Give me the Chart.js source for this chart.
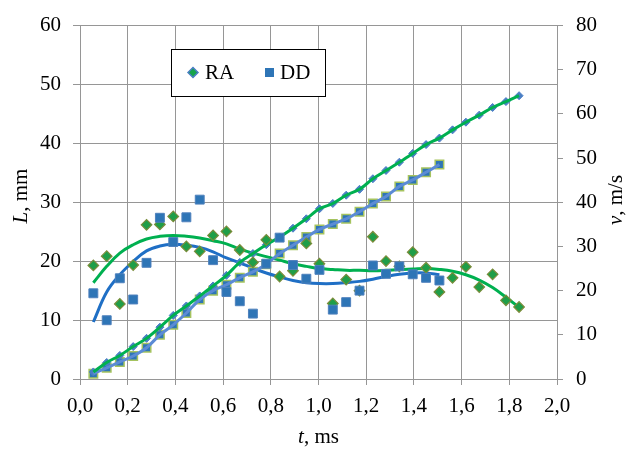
<!DOCTYPE html>
<html><head><meta charset="utf-8">
<script src="https://cdn.jsdelivr.net/npm/chart.js@4.4.1/dist/chart.umd.min.js"></script>
<style>html,body{margin:0;padding:0;background:#fff;} #wrap{width:635px;height:451px;position:relative;}</style>
</head><body><div id="wrap"><canvas id="c" width="635" height="451"></canvas></div>
<script>
// time of each frame, ms
const timeMs = [0.056, 0.112, 0.167, 0.223, 0.279, 0.335, 0.391, 0.446, 0.502, 0.558,
  0.614, 0.670, 0.725, 0.781, 0.837, 0.893, 0.949, 1.004, 1.060, 1.116,
  1.172, 1.228, 1.283, 1.339, 1.395, 1.451, 1.507, 1.562, 1.618, 1.674,
  1.730, 1.786, 1.841];
const seriesNames = ['RA', 'DD'];
// L, mm
const lenRA = [1.2, 2.8, 4.0, 5.5, 6.9, 8.8, 10.8, 12.4, 14.1, 15.8, 17.6, 19.8, 21.3, 22.8, 24.1,
  25.6, 27.2, 28.9, 29.8, 31.2, 32.2, 34.0, 35.4, 36.8, 38.3, 39.8, 40.9, 42.3, 43.6, 44.8,
  46.1, 47.1, 48.1];
const lenDD = [0.9, 1.9, 2.9, 3.9, 5.3, 7.5, 9.2, 11.2, 13.5, 15.0, 16.0, 17.2, 18.2, 19.5, 21.3,
  22.7, 24.1, 25.4, 26.3, 27.2, 28.4, 29.8, 31.0, 32.7, 33.8, 35.1, 36.4];
// v, m/s
const velRA = [25.7, 27.8, 17.0, 25.8, 34.9, 35.0, 36.8, 30.0, 28.9, 32.5, 33.4, 29.2, 26.4, 31.5, 23.2,
  24.5, 30.7, 26.1, 17.1, 22.5, 20.0, 32.2, 26.7, 25.5, 28.7, 25.2, 19.7, 22.9, 25.4, 20.8,
  23.7, 17.8, 16.3];
const velDD = [19.4, 13.3, 22.8, 18.0, 26.3, 36.5, 31.0, 36.6, 40.6, 26.9, 19.7, 17.6, 14.8, 26.1, 32.0,
  25.8, 22.7, 24.7, 15.7, 17.4, 20.0, 25.7, 23.8, 25.5, 23.7, 22.9, 22.3];
// smoothed v, m/s
const velFitRA = [21.8, 25.5, 28.5, 30.4, 31.7, 32.3, 32.5, 32.3, 31.9, 31.3, 30.6, 29.4, 28.5, 27.7, 26.9,
  26.1, 25.5, 25.0, 24.8, 24.6, 24.6, 24.5, 24.6, 24.8, 24.9, 25.0, 24.8, 24.4, 23.6, 22.4,
  20.7, 18.5, 16.2];
const velFitDD = [12.9, 19.7, 23.6, 26.6, 29.0, 30.1, 30.5, 30.3, 29.8, 28.8, 27.4, 26.3, 25.1, 24.0, 23.1,
  22.3, 21.8, 21.6, 21.6, 21.8, 22.1, 22.6, 23.2, 23.7, 24.0, 24.0, 23.6];
const xTickStep = 0.2, xMax = 2.0, lMax = 60, lStep = 10, vMax = 80, vStep = 10;

const FONT = "'Liberation Serif', 'Times New Roman', serif";
const GRID = '#969696';
const pts = (ys) => ys.map((y, i) => ({x: timeMs[i], y}));

const titlesAndLegend = {
  id: 'titlesAndLegend',
  afterDraw(chart) {
    const ctx = chart.ctx;
    ctx.save();
    ctx.fillStyle = '#000';
    ctx.textBaseline = 'middle';
    ctx.textAlign = 'left';
    const mixed = (parts, x, y) => {
      let total = 0;
      parts.forEach(p => { ctx.font = p[1]; p.w = ctx.measureText(p[0]).width; total += p.w; });
      let cx = x - total / 2;
      parts.forEach(p => { ctx.font = p[1]; ctx.fillText(p[0], cx, y); cx += p.w; });
    };
    const it = 'italic 21px ' + FONT, nm = '21px ' + FONT;
    const ca = chart.chartArea;
    // x title
    mixed([['t', it], [', ms', nm]], (ca.left + ca.right) / 2, 437);
    // left title
    ctx.save(); ctx.translate(21, 196); ctx.rotate(-Math.PI / 2);
    mixed([['L', it], [', mm', nm]], 0, 0); ctx.restore();
    // right title
    ctx.save(); ctx.translate(616, 200); ctx.rotate(-Math.PI / 2);
    mixed([['v', it], [', m/s', nm]], 0, 0); ctx.restore();
    // legend box
    ctx.fillStyle = '#fff';
    ctx.fillRect(171.5, 49.5, 154, 47);
    ctx.strokeStyle = '#000'; ctx.lineWidth = 1;
    ctx.strokeRect(171.5, 49.5, 154, 47);
    // RA marker
    ctx.beginPath();
    ctx.moveTo(188, 72.5); ctx.lineTo(193, 67.5); ctx.lineTo(198, 72.5); ctx.lineTo(193, 77.5); ctx.closePath();
    ctx.fillStyle = '#16a44c'; ctx.fill();
    ctx.strokeStyle = '#4a7ec4'; ctx.lineWidth = 1.5; ctx.stroke();
    // DD marker
    ctx.fillStyle = '#2e75b6';
    ctx.fillRect(265, 68, 9, 9);
    ctx.fillStyle = '#000'; ctx.font = nm;
    ctx.fillText(seriesNames[0], 205, 73);
    ctx.fillText(seriesNames[1], 280, 73);
    ctx.restore();
  }
};

new Chart(document.getElementById('c'), {
  type: 'scatter',
  data: {
    datasets: [
      { label: 'DD v', data: pts(velDD), yAxisID: 'yV', order: 1, pointStyle: 'rect', pointRadius: 6.3,
        backgroundColor: '#2e75b6', borderColor: '#4f81bd', borderWidth: 1, showLine: false },
      { label: 'RA v', data: pts(velRA), yAxisID: 'yV', order: 2, pointStyle: 'rectRot', pointRadius: 5.3,
        backgroundColor: '#1f9e48', borderColor: '#7a8c3a', borderWidth: 1.2, showLine: false },
      { label: 'RA L fit', data: pts(lenRA), yAxisID: 'yL', order: 3, showLine: true, pointRadius: 0,
        borderColor: '#00b050', borderWidth: 3, tension: 0.4, cubicInterpolationMode: 'monotone' },
      { label: 'DD L fit', data: pts(lenDD), yAxisID: 'yL', order: 4, showLine: true, pointRadius: 0,
        borderColor: '#5b8bd5', borderWidth: 3, tension: 0.4, cubicInterpolationMode: 'monotone' },
      { label: 'RA L', data: pts(lenRA), yAxisID: 'yL', order: 5, pointStyle: 'rectRot', pointRadius: 4,
        backgroundColor: '#4a7ec4', borderColor: '#4a7ec4', borderWidth: 1, showLine: false },
      { label: 'DD L', data: pts(lenDD), yAxisID: 'yL', order: 6, pointStyle: 'rect', pointRadius: 6,
        backgroundColor: '#2e75b6', borderColor: '#a5c35f', borderWidth: 1.5, showLine: false },
      { label: 'RA v fit', data: pts(velFitRA), yAxisID: 'yV', order: 7, showLine: true, pointRadius: 0,
        borderColor: '#00b050', borderWidth: 3, tension: 0.4 },
      { label: 'DD v fit', data: pts(velFitDD), yAxisID: 'yV', order: 8, showLine: true, pointRadius: 0,
        borderColor: '#1f6fc5', borderWidth: 3, tension: 0.4 }
    ]
  },
  options: {
    responsive: false,
    animation: false,
    devicePixelRatio: 1,
    layout: { padding: { top: 23, left: 0, right: 0, bottom: 0 } },
    plugins: { legend: { display: false }, tooltip: { enabled: false } },
    scales: {
      x: {
        type: 'linear', position: 'bottom', min: 0, max: xMax,
        ticks: { stepSize: xTickStep, autoSkip: false, maxRotation: 0, color: '#000', padding: 9,
          font: { family: FONT, size: 21 },
          callback: v => v.toFixed(1).replace('.', ',') },
        grid: { color: GRID, tickLength: 6, lineWidth: 1 },
        border: { color: GRID },
        afterFit: s => { s.height = 72; }
      },
      yL: {
        type: 'linear', position: 'left', min: 0, max: lMax,
        ticks: { stepSize: lStep, color: '#000', padding: 12, font: { family: FONT, size: 21 } },
        grid: { color: GRID, tickLength: 7, lineWidth: 1 },
        border: { color: GRID },
        afterFit: s => { s.width = 80; }
      },
      yV: {
        type: 'linear', position: 'right', min: 0, max: vMax,
        ticks: { stepSize: vStep, color: '#000', padding: 13, font: { family: FONT, size: 21 } },
        grid: { drawOnChartArea: false, color: GRID, tickLength: 6 },
        border: { color: GRID },
        afterFit: s => { s.width = 78; }
      }
    }
  },
  plugins: [titlesAndLegend]
});
</script>
</body></html>
